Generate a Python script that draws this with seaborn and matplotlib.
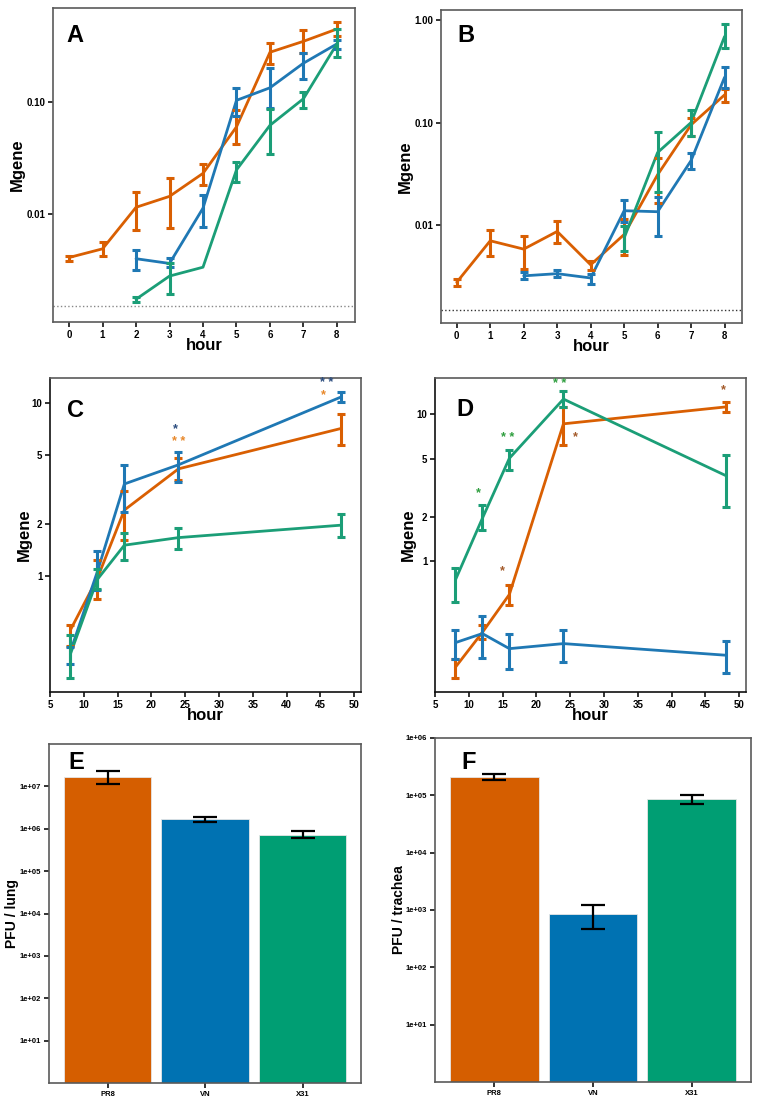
import numpy as np
import pandas as pd
import matplotlib
matplotlib.use("Agg")
import matplotlib.pyplot as plt
import seaborn as sns

# ---------------- data ----------------
strains = ["PR8", "VN", "X31"]
line_colors = {"PR8": "#D95F02", "VN": "#1F78B4", "X31": "#1B9E77"}
bar_colors = ["#D55E00", "#0072B2", "#009E73"]

# panel A (hours 0-8)
a_pr8_h = [0, 1, 2, 3, 4, 5, 6, 7, 8]
a_pr8 = [0.0041, 0.0049, 0.0115, 0.0144, 0.0231, 0.060, 0.278, 0.348, 0.448]
a_pr8_lo = [0.00385, 0.0042, 0.0072, 0.0075, 0.0180, 0.042, 0.219, 0.274, 0.39]
a_pr8_hi = [0.00427, 0.0056, 0.0159, 0.0211, 0.0278, 0.0844, 0.337, 0.438, 0.52]
a_vn_h = [2, 3, 4, 5, 6, 7, 8]
a_vn = [0.0040, 0.00363, 0.0113, 0.1035, 0.134, 0.222, 0.33]
a_vn_lo = [0.00317, 0.0034, 0.0076, 0.0746, 0.088, 0.161, 0.297]
a_vn_hi = [0.00477, 0.0041, 0.0149, 0.133, 0.2018, 0.274, 0.36]
a_x31_h = [2, 3, 4, 5, 6, 7, 8]
a_x31 = [0.00174, 0.0028, 0.00336, 0.0248, 0.062, 0.107, 0.33]
a_x31_lo = [0.00166, 0.00192, np.nan, 0.0194, 0.0347, 0.089, 0.254]
a_x31_hi = [0.00182, 0.00363, np.nan, 0.0293, 0.0867, 0.123, 0.448]

# panel B (hours 0-8)
b_pr8_h = [0, 1, 2, 3, 4, 5, 6, 7, 8]
b_pr8 = [0.00277, 0.00703, 0.00583, 0.00867, 0.0041, 0.0081, 0.031, 0.095, 0.186]
b_pr8_lo = [0.00253, 0.00503, 0.00373, 0.00668, 0.00362, 0.00514, 0.0164, 0.074, 0.16]
b_pr8_hi = [0.0030, 0.00887, 0.00787, 0.01085, 0.00443, 0.0115, 0.045, 0.110, 0.211]
b_vn_h = [2, 3, 4, 5, 6, 7, 8]
b_vn = [0.0032, 0.00336, 0.00305, 0.0138, 0.0135, 0.0426, 0.276]
b_vn_lo = [0.00298, 0.00312, 0.00268, 0.0108, 0.00787, 0.0351, 0.216]
b_vn_hi = [0.00346, 0.00362, 0.00336, 0.0177, 0.0187, 0.0502, 0.351]
b_x31_h = [5, 6, 7, 8]
b_x31 = [0.0075, 0.051, 0.10, 0.69]
b_x31_lo = [0.0056, 0.0208, 0.074, 0.538]
b_x31_hi = [0.0098, 0.080, 0.131, 0.914]

# panel C / D (hours 8-48)
cd_h = [8, 12, 16, 24, 48]
c_pr8 = [0.487, 0.97, 2.41, 4.17, 7.13]
c_pr8_lo = [0.394, 0.733, 1.61, 3.6, 5.69]
c_pr8_hi = [0.52, 1.24, 3.12, 4.80, 8.63]
c_vn = [0.365, 1.06, 3.41, 4.40, 10.83]
c_vn_lo = [0.31, 0.83, 2.36, 3.52, 10.2]
c_vn_hi = [0.39, 1.40, 4.41, 5.2, 11.6]
c_x31 = [0.353, 0.957, 1.51, 1.67, 1.97]
c_x31_lo = [0.258, 0.838, 1.24, 1.44, 1.69]
c_x31_hi = [0.455, 1.107, 1.78, 1.91, 2.29]

d_pr8 = [0.191, 0.33, 0.597, 8.6, 11.2]
d_pr8_lo = [0.163, 0.296, 0.51, 6.18, 10.3]
d_pr8_hi = [0.217, 0.37, 0.69, 11.2, 12.1]
d_vn = [0.281, 0.324, 0.256, 0.277, 0.231]
d_vn_lo = [0.219, 0.222, 0.187, 0.207, 0.176]
d_vn_hi = [0.344, 0.425, 0.324, 0.344, 0.287]
d_x31 = [0.746, 1.96, 5.02, 12.66, 3.83]
d_x31_lo = [0.532, 1.63, 4.18, 11.2, 2.36]
d_x31_hi = [0.91, 2.42, 5.72, 14.3, 5.26]

# significance stars (x, y, text, colour)
c_stars = [(23.5, 7.1, "*", "#2B4C7E"), (24.0, 6.0, "* *", "#E8882A"),
           (45.9, 13.1, "* *", "#2B4C7E"), (45.4, 11.1, "*", "#E8882A")]
d_stars = [(23.5, 16.0, "* *", "#2E9E3E"), (15.7, 6.94, "* *", "#2E9E3E"),
           (11.4, 2.93, "*", "#2E9E3E"), (14.9, 0.86, "*", "#A35A2A"),
           (25.7, 6.94, "*", "#A35A2A"), (47.6, 14.5, "*", "#A35A2A")]

# panel E / F bars
pfu_lung = [1.66e7, 1.66e6, 7.3e5]
pfu_lung_lo = [1.16e7, 1.41e6, 5.9e5]
pfu_lung_hi = [2.3e7, 1.9e6, 8.9e5]
pfu_trachea = [2.09e5, 863, 8.63e4]
pfu_trachea_lo = [1.88e5, 473, 7.06e4]
pfu_trachea_hi = [2.36e5, 1222, 1.03e5]

# ---------------- style ----------------
sns.set_style("white")
plt.rcParams["font.family"] = ["Liberation Sans", "DejaVu Sans"]
plt.rcParams["font.weight"] = "bold"
plt.rcParams["axes.labelweight"] = "bold"
plt.rcParams["text.color"] = "black"
plt.rcParams["axes.labelcolor"] = "black"
plt.rcParams["xtick.color"] = "black"
plt.rcParams["ytick.color"] = "black"

W, H = 760, 1102
fig = plt.figure(figsize=(7.6, 11.02), dpi=100)


def add_ax(left, top, right, bottom):
    return fig.add_axes([left / W, 1 - bottom / H, (right - left) / W, (bottom - top) / H])


def style_ax(ax):
    for s in ax.spines.values():
        s.set_color("#5a5a5a")
        s.set_linewidth(1.2)
    ax.tick_params(axis="both", which="major", direction="out", length=3.5, width=1.2,
                   color="#111111", labelcolor="black", labelsize=7, pad=2,
                   bottom=True, left=True)
    ax.tick_params(axis="both", which="minor", length=0)


def line_panel(ax, series):
    rows = []
    for name, h, m, lo, hi in series:
        for hh, mm in zip(h, m):
            rows.append({"hour": hh, "Mgene": mm, "strain": name})
    df = pd.DataFrame(rows)
    sns.lineplot(data=df, x="hour", y="Mgene", hue="strain", palette=line_colors,
                 linewidth=2, legend=False, errorbar=None, ax=ax)
    for name, h, m, lo, hi in series:
        h, m, lo, hi = map(np.asarray, (h, m, lo, hi))
        ok = ~np.isnan(lo)
        ax.errorbar(h[ok], m[ok], yerr=[m[ok] - lo[ok], hi[ok] - m[ok]], fmt="none",
                    ecolor=line_colors[name], elinewidth=2.2, capsize=3, capthick=2.2)
    ax.set_yscale("log")


def panel_letter(ax, x, y, s):
    ax.text(x, y, s, transform=ax.transAxes, fontsize=17, fontweight="bold",
            color="black", ha="left", va="center")


# ---------------- A ----------------
axA = add_ax(53, 8, 355, 322)
line_panel(axA, [("PR8", a_pr8_h, a_pr8, a_pr8_lo, a_pr8_hi),
                 ("VN", a_vn_h, a_vn, a_vn_lo, a_vn_hi),
                 ("X31", a_x31_h, a_x31, a_x31_lo, a_x31_hi)])
axA.axhline(0.0015, ls=":", color="#888888", lw=1)
axA.set_xlim(-0.48, 8.54)
axA.set_ylim(0.00109, 0.69)
axA.set_xticks(range(9))
axA.set_yticks([0.01, 0.1], ["0.01", "0.10"])
style_ax(axA)
axA.set_xlabel("hour", fontsize=12)
axA.set_ylabel("Mgene", fontsize=12)
axA.xaxis.set_label_coords(0.5, -0.05)
axA.yaxis.set_label_coords(-0.093, 0.5)
panel_letter(axA, 0.043, 0.914, "A")

# ---------------- B ----------------
axB = add_ax(441, 10, 742, 323)
line_panel(axB, [("PR8", b_pr8_h, b_pr8, b_pr8_lo, b_pr8_hi),
                 ("VN", b_vn_h, b_vn, b_vn_lo, b_vn_hi),
                 ("X31", b_x31_h, b_x31, b_x31_lo, b_x31_hi)])
axB.axhline(0.0015, ls=":", color="#333333", lw=1)
axB.set_xlim(-0.47, 8.52)
axB.set_ylim(0.00111, 1.25)
axB.set_xticks(range(9))
axB.set_yticks([0.01, 0.1, 1.0], ["0.01", "0.10", "1.00"])
style_ax(axB)
axB.set_xlabel("hour", fontsize=12)
axB.set_ylabel("Mgene", fontsize=12)
axB.xaxis.set_label_coords(0.5, -0.05)
axB.yaxis.set_label_coords(-0.093, 0.5)
panel_letter(axB, 0.056, 0.92, "B")

# ---------------- C ----------------
axC = add_ax(50, 378, 361, 692)
line_panel(axC, [("PR8", cd_h, c_pr8, c_pr8_lo, c_pr8_hi),
                 ("VN", cd_h, c_vn, c_vn_lo, c_vn_hi),
                 ("X31", cd_h, c_x31, c_x31_lo, c_x31_hi)])
axC.set_xlim(5, 51)
axC.set_ylim(0.214, 13.97)
axC.set_xticks(range(5, 55, 5))
axC.set_yticks([1, 2, 5, 10], ["1", "2", "5", "10"])
style_ax(axC)
axC.spines["bottom"].set_color("#111111")
axC.spines["left"].set_color("#111111")
for x, y, s, c in c_stars:
    axC.text(x, y, s, color=c, fontsize=9, fontweight="bold", ha="center", va="center")
axC.set_xlabel("hour", fontsize=12)
axC.set_ylabel("Mgene", fontsize=12)
axC.xaxis.set_label_coords(0.5, -0.05)
axC.yaxis.set_label_coords(-0.058, 0.5)
panel_letter(axC, 0.055, 0.898, "C")

# ---------------- D ----------------
axD = add_ax(435, 378, 746, 692)
line_panel(axD, [("PR8", cd_h, d_pr8, d_pr8_lo, d_pr8_hi),
                 ("VN", cd_h, d_vn, d_vn_lo, d_vn_hi),
                 ("X31", cd_h, d_x31, d_x31_lo, d_x31_hi)])
axD.set_xlim(5, 51)
axD.set_ylim(0.13, 17.6)
axD.set_xticks(range(5, 55, 5))
axD.set_yticks([1, 2, 5, 10], ["1", "2", "5", "10"])
style_ax(axD)
axD.spines["bottom"].set_color("#111111")
axD.spines["left"].set_color("#111111")
for x, y, s, c in d_stars:
    axD.text(x, y, s, color=c, fontsize=9, fontweight="bold", ha="center", va="center")
axD.set_xlabel("hour", fontsize=12)
axD.set_ylabel("Mgene", fontsize=12)
axD.xaxis.set_label_coords(0.5, -0.05)
axD.yaxis.set_label_coords(-0.061, 0.5)
panel_letter(axD, 0.07, 0.901, "D")


# ---------------- E / F ----------------
def bar_panel(ax, vals, lo, hi, ylim, ticks):
    sns.barplot(x=strains, y=vals, hue=strains, palette=bar_colors, width=0.9,
                saturation=1, legend=False, edgecolor="#e6e6e6", linewidth=0.6, ax=ax)
    ax.set_yscale("log")
    vals, lo, hi = map(np.asarray, (vals, lo, hi))
    ax.errorbar(range(3), vals, yerr=[vals - lo, hi - vals], fmt="none", ecolor="black",
                elinewidth=1.6, capsize=8.5, capthick=1.6)
    ax.set_xlim(-0.6, 2.6)
    ax.set_ylim(*ylim)
    ax.set_yticks(ticks, ["1e+%02d" % int(np.log10(t)) for t in ticks])
    style_ax(ax)
    ax.tick_params(labelsize=5.5)
    ax.set_xlabel("")


axE = add_ax(49, 744, 361, 1083)
bar_panel(axE, pfu_lung, pfu_lung_lo, pfu_lung_hi, (1, 1e8), [1e1, 1e2, 1e3, 1e4, 1e5, 1e6, 1e7])
axE.set_ylabel("PFU / lung", fontsize=10)
axE.yaxis.set_label_coords(-0.096, 0.5)
panel_letter(axE, 0.061, 0.944, "E")

axF = add_ax(435, 738, 751, 1082)
bar_panel(axF, pfu_trachea, pfu_trachea_lo, pfu_trachea_hi, (1, 1e6), [1e1, 1e2, 1e3, 1e4, 1e5, 1e6])
axF.set_ylabel("PFU / trachea", fontsize=10)
axF.yaxis.set_label_coords(-0.092, 0.5)
panel_letter(axF, 0.085, 0.93, "F")

fig.savefig("out.png", dpi=100)
